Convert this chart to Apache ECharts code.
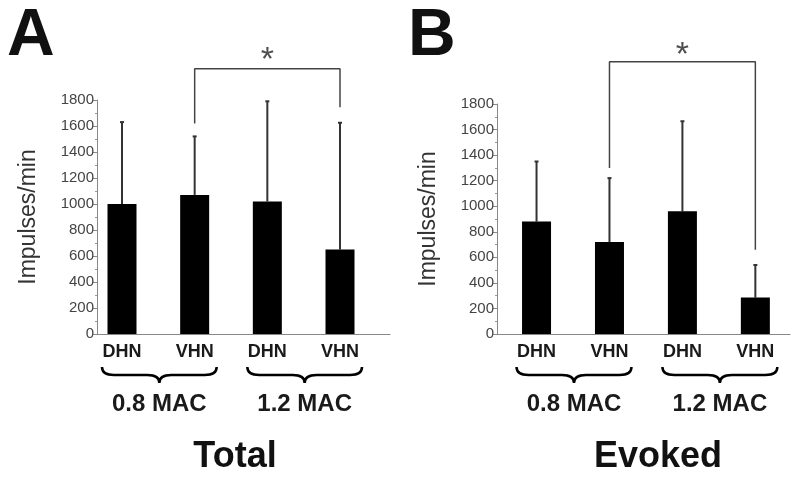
<!DOCTYPE html>
<html>
<head>
<meta charset="utf-8">
<script src="https://cdn.jsdelivr.net/npm/echarts@6/dist/echarts.min.js"></script>
<style>html,body{margin:0;padding:0;background:#fff}#c{width:800px;height:484px}</style>
</head>
<body>
<div id="c"></div>
<script>
// ---- data ----
const categories = ['DHN', 'VHN', 'DHN', 'VHN'];
const groupLabels = ['0.8 MAC', '1.2 MAC'];
const groupSpans = [[0, 1], [2, 3]];
const totalMean = [1000, 1070, 1020, 650];
const totalUpper = [1630, 1520, 1790, 1625];
const evokedMean = [880, 720, 960, 285];
const evokedUpper = [1350, 1220, 1665, 540];
const yTicks = [0, 200, 400, 600, 800, 1000, 1200, 1400, 1600, 1800];
const sigTotal = [[1, 1620], [1, 2040], [3, 2040], [3, 1745]];
const sigEvoked = [[1, 1300], [1, 2130], [3, 2130], [3, 660]];
const starTotal = [[2, 2100]];
const starEvoked = [[2, 2175]];
const panelLetters = ['A', 'B'];
const panelTitles = ['Total', 'Evoked'];
const yName = 'Impulses/min';

const FONT = '"Liberation Sans", Arial, sans-serif';
const chart = echarts.init(document.getElementById('c'), null, {renderer: 'canvas'});

function xAxisDef(idx, min, max) {
  return {
    gridIndex: idx, type: 'value', min: min, max: max,
    axisLine: {show: true, onZero: false, lineStyle: {color: '#888', width: 1}},
    axisTick: {show: false},
    splitLine: {show: false},
    axisLabel: {
      customValues: [0, 1, 2, 3],
      formatter: v => categories[Math.round(v)] || '',
      fontFamily: FONT, fontWeight: 'bold', fontSize: 18, color: '#1a1a1a', margin: 9
    }
  };
}
function yAxisDef(idx) {
  return {
    gridIndex: idx, type: 'value', min: yTicks[0], max: yTicks[yTicks.length - 1],
    interval: yTicks[1] - yTicks[0],
    name: yName, nameLocation: 'middle', nameGap: 57,
    nameTextStyle: {fontFamily: FONT, fontSize: 23, color: '#333'},
    axisLine: {show: true, onZero: false, lineStyle: {color: '#888', width: 1}},
    axisTick: {show: true, length: 4, lineStyle: {color: '#888'}},
    minorTick: {show: true, splitNumber: 2, length: 2, lineStyle: {color: '#999'}},
    splitLine: {show: false},
    axisLabel: {fontFamily: FONT, fontSize: 15, color: '#444', margin: 3, formatter: v => String(v)}
  };
}
function barSeries(idx, mean) {
  return {
    type: 'bar', xAxisIndex: idx, yAxisIndex: idx, barWidth: 29,
    itemStyle: {color: '#000'},
    data: mean.map((v, i) => [i, v]), z: 2
  };
}
function errSeries(idx, mean, upper) {
  return {
    type: 'custom', xAxisIndex: idx, yAxisIndex: idx, z: 1,
    data: mean.map((v, i) => [i, v, upper[i]]),
    renderItem: (params, api) => {
      const p1 = api.coord([api.value(0), api.value(1)]);
      const p2 = api.coord([api.value(0), api.value(2)]);
      return {type: 'group', children: [
        {type: 'line', shape: {x1: p1[0], y1: p1[1], x2: p2[0], y2: p2[1]}, style: {stroke: '#333', lineWidth: 2}},
        {type: 'line', shape: {x1: p2[0] - 2, y1: p2[1], x2: p2[0] + 2, y2: p2[1]}, style: {stroke: '#333', lineWidth: 2}}
      ]};
    }
  };
}
function braceSeries(idx) {
  return {
    type: 'custom', xAxisIndex: idx, yAxisIndex: idx, clip: false,
    data: groupSpans.map((s, i) => [s[0], s[1], i]),
    renderItem: (params, api) => {
      const a = api.coord([api.value(0), 0]);
      const b = api.coord([api.value(1), 0]);
      const L = a[0] - 20, R = b[0] + 22, T = a[1] + 33, M = T + 8, B = T + 16;
      const xm = (L + R) / 2;
      const d = `M${L} ${T} Q${L} ${M} ${L + 12} ${M} L${xm - 12} ${M} Q${xm} ${M} ${xm} ${B} ` +
                `Q${xm} ${M} ${xm + 12} ${M} L${R - 12} ${M} Q${R} ${M} ${R} ${T}`;
      return {type: 'group', children: [
        {type: 'path', shape: {pathData: d}, style: {fill: 'none', stroke: '#000', lineWidth: 2.5}},
        {type: 'text', x: xm, y: a[1] + 70, style: {
          text: groupLabels[api.value(2)], font: 'bold 24px ' + FONT, fill: '#1a1a1a',
          align: 'center', verticalAlign: 'middle'}}
      ]};
    }
  };
}
function sigSeries(idx, pts, star) {
  return [{
    type: 'line', xAxisIndex: idx, yAxisIndex: idx, data: pts, symbol: 'none', clip: false,
    lineStyle: {color: '#444', width: 1.5}, z: 3
  }, {
    type: 'scatter', xAxisIndex: idx, yAxisIndex: idx, data: star, symbolSize: 0, clip: false,
    label: {show: true, position: 'inside', formatter: '*', fontFamily: FONT, fontSize: 34, color: '#222'}
  }];
}

chart.setOption({
  animation: false,
  backgroundColor: '#fff',
  title: [
    {text: panelLetters[0], left: 2, top: -1, textStyle: {fontFamily: FONT, fontWeight: 'bold', fontSize: 66, color: '#111'}},
    {text: panelLetters[1], left: 403, top: -1, textStyle: {fontFamily: FONT, fontWeight: 'bold', fontSize: 66, color: '#111'}},
    {text: panelTitles[0], left: 230, top: 434, textAlign: 'center', textStyle: {fontFamily: FONT, fontWeight: 'bold', fontSize: 36, color: '#111'}},
    {text: panelTitles[1], left: 653, top: 434, textAlign: 'center', textStyle: {fontFamily: FONT, fontWeight: 'bold', fontSize: 36, color: '#111'}}
  ],
  grid: [
    {left: 97, right: 410, top: 100, bottom: 150},
    {left: 497, right: 10, top: 104, bottom: 150}
  ],
  xAxis: [xAxisDef(0, -0.344, 3.688), xAxisDef(1, -0.542, 3.475)],
  yAxis: [yAxisDef(0), yAxisDef(1)],
  series: [
    barSeries(0, totalMean), errSeries(0, totalMean, totalUpper), braceSeries(0),
    ...sigSeries(0, sigTotal, starTotal),
    barSeries(1, evokedMean), errSeries(1, evokedMean, evokedUpper), braceSeries(1),
    ...sigSeries(1, sigEvoked, starEvoked)
  ]
});
</script>
</body>
</html>
